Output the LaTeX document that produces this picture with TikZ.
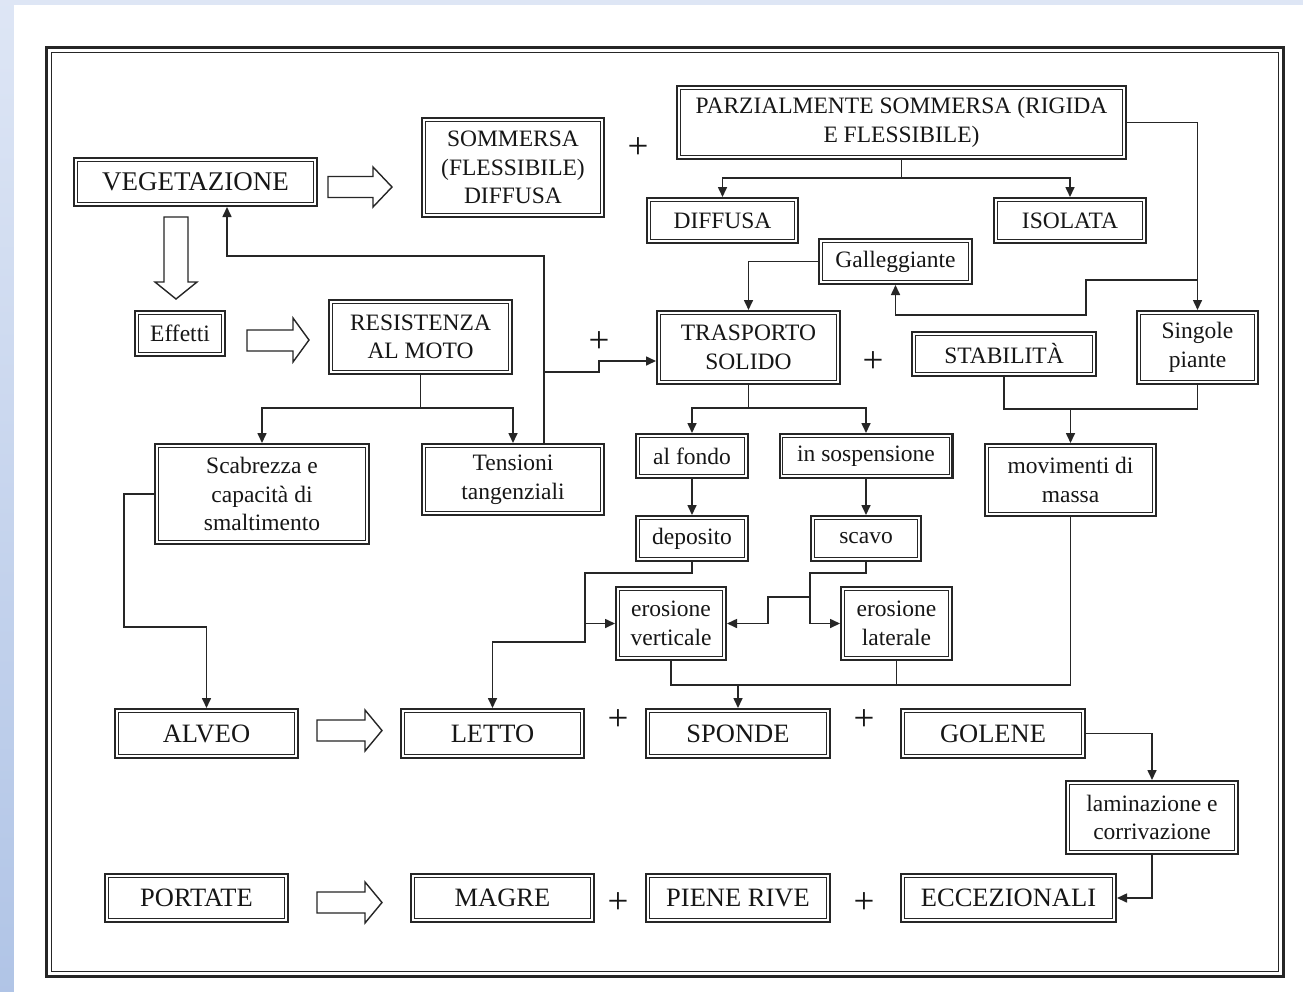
\documentclass[tikz,border=0pt]{standalone}
\usepackage{fontspec}
\setmainfont{Liberation Serif}
\usetikzlibrary{arrows.meta,calc}
\definecolor{lc}{RGB}{38,38,38}
\definecolor{tc}{RGB}{22,22,22}
\definecolor{bgtop}{RGB}{222,230,245}
\definecolor{bgbot}{RGB}{176,196,230}
\newcommand\fsA{\fontsize{23.5}{28.5}\selectfont}
\newcommand\fsB{\fontsize{26.5}{30}\selectfont}
\tikzset{
  box/.style={draw=lc, line width=2.3pt, fill=white, inner sep=0pt, align=center, text=tc, font=\fsA},
  sz/.style 2 args={minimum width={#1pt-2.3pt}, minimum height={#2pt-2.3pt}},
  big/.style={font=\fsB},
  inbox/.style={draw=lc, line width=1.1pt},
  conn/.style={draw=lc, line width=1.6pt},
  arr/.style={conn, -{Triangle[length=10pt,width=9pt]}},
  hollow/.style={draw=lc, line width=1.4pt, fill=white, line join=miter},
  plus/.style={text=tc, font=\fontsize{37}{37}\selectfont, inner sep=0pt},
}
\begin{document}
\begin{tikzpicture}[x=1pt,y=-1pt]
\useasboundingbox (0,0) rectangle (1303,991);
% background
\shade[top color=bgtop, bottom color=bgbot] (-5,-5) rectangle (1310,1000);
\fill[white] (14,5) rectangle (1310,1000);
% frame
\draw[lc, line width=2.6pt] (46.3,47.3) rectangle (1283.7,976.7);
\draw[lc, line width=1.3pt] (51.5,52.5) rectangle (1278.5,971.5);

% nodes
\node[box, sz={245}{50}, font=\fontsize{27}{30}\selectfont] (veg) at (195.5,182) {VEGETAZIONE};
\node[box, sz={184}{101}] (somm) at (513,167.5) {SOMMERSA\\(FLESSIBILE)\\DIFFUSA};
\node[box, sz={451}{75}, font=\fontsize{23.5}{29.5}\selectfont] (parz) at (901.5,122.5) {PARZIALMENTE SOMMERSA (RIGIDA\\E FLESSIBILE)};
\node[box, sz={153}{47}] (diff) at (722.5,220.5) {DIFFUSA};
\node[box, sz={154}{47}] (isol) at (1070,220.5) {ISOLATA};
\node[box, sz={155}{47}] (gall) at (895.5,261.5) {Galleggiante};
\node[box, sz={92}{47}] (eff) at (180,333.5) {Effetti};
\node[box, sz={185}{76}] (res) at (420.5,337) {RESISTENZA\\AL MOTO};
\node[box, sz={185}{75}] (tras) at (748.5,347.5) {TRASPORTO\\SOLIDO};
\node[box, sz={186}{46}] (stab) at (1004,354) {STABILITÀ};
\node[box, sz={123}{75}] (sing) at (1197.5,347.5) {Singole\\piante};
\node[box, sz={216}{102}] (scab) at (262,494) {Scabrezza e\\capacità di\\smaltimento};
\node[box, sz={184}{73}] (tens) at (513,479.5) {Tensioni\\tangenziali};
\node[box, sz={114}{46}] (fondo) at (692,456) {al fondo};
\node[box, sz={175}{46}] (sosp) at (866,456) {in sospensione};
\node[box, sz={173}{74}] (mov) at (1070.5,480) {movimenti di\\massa};
\node[box, sz={114}{47}] (depo) at (692,538.5) {deposito};
\node[box, sz={112}{47}] (scavo) at (866,538.5) {scavo};
\node[box, sz={112}{75}] (erv) at (671,623.5) {erosione\\verticale};
\node[box, sz={113}{75}] (erl) at (896.5,623.5) {erosione\\laterale};
\node[box, big, sz={185}{51}] (alveo) at (206.5,733.5) {ALVEO};
\node[box, big, sz={185}{51}] (letto) at (492.5,733.5) {LETTO};
\node[box, big, sz={186}{51}] (sponde) at (738,733.5) {SPONDE};
\node[box, big, sz={186}{51}] (golene) at (993,733.5) {GOLENE};
\node[box, sz={174}{75}] (lamin) at (1152,817.5) {laminazione e\\corrivazione};
\node[box, big, sz={185}{50}] (port) at (196.5,898) {PORTATE};
\node[box, big, sz={185}{50}] (magre) at (502.5,898) {MAGRE};
\node[box, big, sz={186}{50}] (piene) at (738,898) {PIENE RIVE};
\node[box, big, sz={217}{50}] (ecc) at (1008.5,898) {ECCEZIONALI};

% inner lines of double borders
\foreach \n in {veg,somm,parz,diff,isol,gall,eff,res,tras,stab,sing,scab,tens,fondo,sosp,mov,depo,scavo,erv,erl,alveo,letto,sponde,golene,lamin,port,magre,piene,ecc}{
  \draw[inbox] ([shift={(4.3pt,-4.3pt)}]\n.north west) rectangle ([shift={(-4.3pt,4.3pt)}]\n.south east);
}

% plus signs
\node[plus] (p1) at (638,148) {+};
\node[plus] (p2) at (599,342) {+};
\node[plus] (p3) at (873,362) {+};
\node[plus] (p4) at (618,720) {+};
\node[plus] (p5) at (864,720) {+};
\node[plus] (p6) at (618,903) {+};
\node[plus] (p7) at (864,903) {+};

% hollow block arrows
\draw[hollow] (328,176.5) -- (373,176.5) -- (373,167) -- (392,187) -- (373,207) -- (373,197.5) -- (328,197.5) -- cycle;
\draw[hollow] (164,217) -- (188,217) -- (188,282) -- (197,282) -- (176,299) -- (155,282) -- (164,282) -- cycle;
\draw[hollow] (247,330) -- (293,330) -- (293,318) -- (309,340) -- (293,362) -- (293,351) -- (247,351) -- cycle;
\draw[hollow] (317,720) -- (365,720) -- (365,710) -- (382,730.5) -- (365,751) -- (365,741) -- (317,741) -- cycle;
\draw[hollow] (317,892) -- (365,892) -- (365,882) -- (382,902.5) -- (365,923) -- (365,913) -- (317,913) -- cycle;

% connectors
\coordinate (j1) at (901.5,178);
\draw[conn] (parz.south) -- (j1);
\draw[arr] (j1) -| (diff.north);
\draw[arr] (j1) -| (isol.north);
\draw[arr] (parz.east) -| (sing.north);
\coordinate (j2) at (1197.5,280);
\draw[arr] (j2) -- (1086,280) -- (1086,315) -| (gall.south);
\draw[arr] (gall.west) -| (tras.north);
\coordinate (t1) at ([xshift=31pt]tens.north);
\draw[arr] (t1) |- (227,256) -- ([xshift=31.5pt]veg.south);
\coordinate (j3) at (544,372);
\draw[arr] (j3) -- (599,372) -- (599,361) -- ([yshift=-13.5pt]tras.west);
\coordinate (j4) at (420.5,408);
\draw[conn] (res.south) -- (j4);
\draw[arr] (j4) -| (scab.north);
\draw[arr] (j4) -| (tens.north);
\draw[arr] (scab.west) -- (124,494) -- (124,627) -| (alveo.north);
\coordinate (j5) at (748.5,408);
\draw[conn] (tras.south) -- (j5);
\draw[arr] (j5) -| (fondo.north);
\draw[arr] (j5) -| (sosp.north);
\draw[arr] (fondo.south) -- (depo.north);
\draw[arr] (sosp.south) -- (scavo.north);
\draw[arr] (depo.south) |- (585,573) -- (585,642) -| (letto.north);
\coordinate (j6) at (585,623.5);
\draw[arr] (j6) -- (erv.west);
\draw[arr] (scavo.south) |- (810,573) -- (810,623.5) -- (erl.west);
\coordinate (j7) at (810,597);
\draw[arr] (j7) -- (768,597) -- (768,623.5) -- (erv.east);
\coordinate (j8) at (738,685);
\draw[conn] (erv.south) -- (671,685) -- (1070.5,685) -- (mov.south);
\draw[conn] (erl.south) -- (896.5,685);
\draw[arr] (j8) -- (sponde.north);
\coordinate (j9) at (1070.5,409);
\draw[conn] (stab.south) |- (j9) -| (sing.south);
\draw[arr] (j9) -- (mov.north);
\draw[arr] (golene.east) -| (lamin.north);
\draw[arr] (lamin.south) |- (ecc.east);
\end{tikzpicture}
\end{document}
